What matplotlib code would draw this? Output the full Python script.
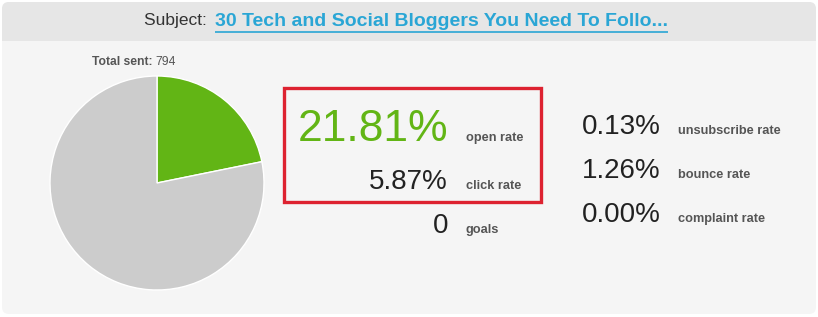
import matplotlib
matplotlib.use("Agg")
import matplotlib.pyplot as plt
from matplotlib.patches import FancyBboxPatch, Rectangle

# ---- data ----
subject = "30 Tech and Social Bloggers You Need To Follo..."
total_sent = 794
left_values = ["21.81%", "5.87%", "0"]
left_labels = ["open rate", "click rate", "goals"]
right_values = ["0.13%", "1.26%", "0.00%"]
right_labels = ["unsubscribe rate", "bounce rate", "complaint rate"]
open_rate = 21.81
pie_values = [open_rate, 100 - open_rate]

C_GREEN = "#62b515"
C_GREY = "#cccccc"
C_LABEL = "#555555"
C_NUM = "#222222"
C_LINK = "#2aa6d5"
C_RED = "#dd2230"

plt.rcParams["font.family"] = ["Liberation Sans", "DejaVu Sans"]

W, H = 818, 317
fig = plt.figure(figsize=(W / 100, H / 100), dpi=100)
fig.patch.set_facecolor("white")

# pixel-space canvas
ax = fig.add_axes([0, 0, 1, 1])
ax.set_xlim(0, W)
ax.set_ylim(H, 0)
ax.axis("off")
inv = ax.transData.inverted()

# card: body + header band
ax.add_patch(FancyBboxPatch((2, 2), W - 4, 312, boxstyle="round,pad=0,rounding_size=7",
                            fc="#f5f5f5", ec="none"))
ax.add_patch(FancyBboxPatch((2, 2), W - 4, 60, boxstyle="round,pad=0,rounding_size=7",
                            fc="#e6e6e6", ec="none"))
ax.add_patch(Rectangle((2, 41), W - 4, 25, fc="#f5f5f5", ec="none"))

# header
ax.text(212, 21, "Subject: ", ha="right", va="center", fontsize=12.5, color="#333333")
t2 = ax.text(215, 21, subject, ha="left", va="center", fontsize=14,
             color=C_LINK, fontweight="bold")
fig.canvas.draw()
bb = t2.get_window_extent()
(x0, _), (x1, _) = inv.transform([(bb.x0, bb.y0), (bb.x1, bb.y0)])
ax.plot([x0, x1], [31.5, 31.5], color=C_LINK, lw=1.2, solid_capstyle="butt")

# total sent
ts = ax.text(92, 65, "Total sent: ", ha="left", va="baseline", fontsize=8.7,
             color=C_LABEL, fontweight="bold")
fig.canvas.draw()
xe = inv.transform((ts.get_window_extent().x1, 0))[0]
ax.text(xe, 65, str(total_sent), ha="left", va="baseline", fontsize=8.7, color=C_LABEL)

# red highlight box
ax.add_patch(Rectangle((283.5, 87.5), 257, 114, fc="none", ec=C_RED, lw=2.4))

# left metric column
left_y = [141, 189, 233]
left_size = [32, 20, 20]
left_col = [C_GREEN, C_NUM, C_NUM]
for v, lab, y, s, c in zip(left_values, left_labels, left_y, left_size, left_col):
    ax.text(448, y, v, ha="right", va="baseline", fontsize=s, color=c)
    ax.text(466, y, lab, ha="left", va="baseline", fontsize=9.2,
            color=C_LABEL, fontweight="bold")

# right metric column
right_y = [134, 178, 222]
for v, lab, y in zip(right_values, right_labels, right_y):
    ax.text(661, y, v, ha="right", va="baseline", fontsize=20, color=C_NUM)
    ax.text(678, y, lab, ha="left", va="baseline", fontsize=9.2,
            color=C_LABEL, fontweight="bold")

# pie
cx, cy, r = 157, 183, 107
pax = fig.add_axes([(cx - r) / W, (H - cy - r) / H, 2 * r / W, 2 * r / H])
pax.pie(pie_values, colors=[C_GREEN, C_GREY], startangle=90, counterclock=False,
        wedgeprops=dict(edgecolor="white", linewidth=1))
pax.set_xlim(-1, 1)
pax.set_ylim(-1, 1)
pax.set_aspect("equal")

fig.savefig("out.png", dpi=100, facecolor="white")
